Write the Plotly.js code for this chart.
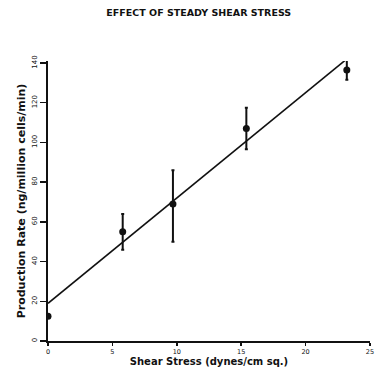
<!DOCTYPE html>
<html><head><meta charset="utf-8">
<script src="https://cdn.plot.ly/plotly-3.0.1.min.js"></script>
<style>html,body{margin:0;padding:0;background:#fff}#chart{width:375px;height:367px}</style>
</head><body><div id="chart"></div>
<script>
const shearStress = [0, 5.8, 9.7, 15.4, 23.2];
const productionRate = [12.5, 55, 69, 107, 136.5];
const errPlus = [0, 9, 17, 10.5, 5];
const errMinus = [0, 9, 19, 10.5, 5];
const fitX = [0, 23.1];
const fitY = [19, 141.5];
const xTicks = [0, 5, 10, 15, 20, 25];
const yTicks = [0, 20, 40, 60, 80, 100, 120, 140];

const fontFam = '"DejaVu Sans", sans-serif';
const traces = [
  {x: fitX, y: fitY, mode: 'lines', line: {color: '#111', width: 1.6}, hoverinfo: 'skip'},
  {x: shearStress, y: productionRate, mode: 'markers',
   marker: {color: '#111', size: 7},
   error_y: {type: 'data', symmetric: false, array: errPlus, arrayminus: errMinus,
             color: '#111', thickness: 2, width: 1.5}}
];
const layout = {
  width: 375, height: 367,
  margin: {l: 48, r: 5, t: 61, b: 26},
  showlegend: false,
  paper_bgcolor: '#fff', plot_bgcolor: '#fff',
  font: {family: fontFam, color: '#111'},
  title: {text: '<b>EFFECT OF STEADY SHEAR STRESS</b>', font: {size: 9.5, family: fontFam, color: '#111'},
          x: 0.53, xanchor: 'center', y: 0.965, yanchor: 'middle'},
  xaxis: {range: [0, 25], tickvals: xTicks, ticktext: xTicks.map(String),
          showgrid: false, zeroline: false, showline: true, linecolor: '#111', linewidth: 2,
          ticks: 'outside', ticklen: 3, tickcolor: '#111', tickwidth: 1.5,
          tickfont: {size: 6.5, family: fontFam, color: '#111'},
          title: {text: '<b>Shear Stress (dynes/cm sq.)</b>', font: {size: 10, family: fontFam, color: '#111'}, standoff: 2}},
  yaxis: {range: [0, 141], tickvals: yTicks, ticktext: yTicks.map(String),
          showgrid: false, zeroline: false, showline: true, linecolor: '#111', linewidth: 2,
          ticks: 'outside', ticklen: 6, tickcolor: '#111', tickwidth: 1.5, tickangle: -90,
          tickfont: {size: 7, family: fontFam, color: '#111'},
          title: {text: '<b>Production Rate (ng/million cells/min)</b>', font: {size: 11, family: fontFam, color: '#111'}, standoff: 3}}
};
Plotly.newPlot('chart', traces, layout, {displayModeBar: false, staticPlot: true});
</script></body></html>
